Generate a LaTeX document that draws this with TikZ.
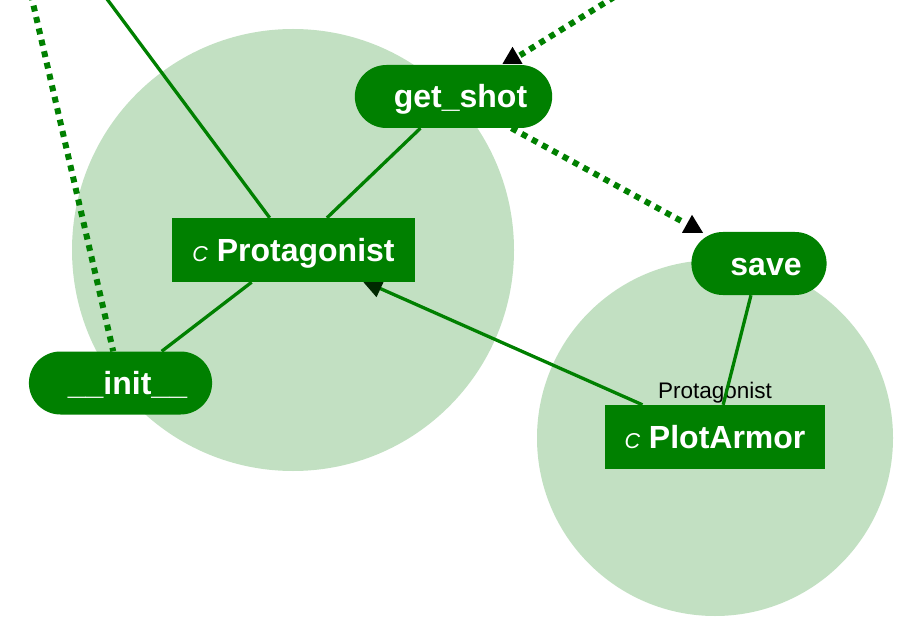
\documentclass[tikz,border=0pt]{standalone}
\usepackage{fontspec}
\setmainfont{Liberation Sans}
\usepackage{xcolor}
\usepackage{tikz}
\usetikzlibrary{positioning, calc}

\definecolor{nodegreen}{RGB}{0,128,0}
\definecolor{zonegreen}{RGB}{194,224,194}
\definecolor{tipdark}{RGB}{0,40,0}

\newcommand{\kindmark}{{\fontsize{21.5}{24}\selectfont\mdseries\itshape C}}

\tikzset{
    zone/.style={circle, fill=zonegreen, inner sep=0pt},
    classbox/.style={rectangle, fill=nodegreen, text=white,
        font=\fontsize{32}{36}\selectfont\bfseries,
        inner xsep=20pt, inner ysep=0pt, minimum height=64pt,
        text height=23pt, text depth=0pt},
    methodpill/.style={rectangle, rounded corners=31.5pt, fill=nodegreen, text=white,
        font=\fontsize{32}{36}\selectfont\bfseries,
        inner xsep=25pt, inner ysep=0pt, minimum height=63pt,
        text height=23pt, text depth=0pt},
    basetag/.style={font=\fontsize{22.5}{26}\selectfont, text=black, inner sep=0pt},
    link/.style={draw=nodegreen, line width=3.3pt},
    call/.style={draw=nodegreen, line width=6pt, dash pattern=on 6pt off 5.7pt},
    headtip/.style={fill=black},
}

\begin{document}
\begin{tikzpicture}[x=1pt, y=-1pt]
        \clip (0,0) rectangle (920,636);
        \node[zone, minimum size=442pt] (Protagonist-zone) at (293,250)  {};
        \node[zone, minimum size=356pt] (PlotArmor-zone)   at (715,438)  {};

        \node[classbox]   (Protagonist) at (293.5,250)   {\kindmark{} Protagonist};
        \node[classbox]   (PlotArmor)   at (715,437)     {\kindmark{} PlotArmor};
        \node[basetag, above=1.3pt of PlotArmor] (PlotArmor-base) {Protagonist};
        \node[methodpill] (get-shot)    at (453.5,96.5)  {\hspace{14pt}get\_shot};
        \node[methodpill] (save)        at (759,263.5)   {\hspace{14pt}save};
        \node[methodpill] (init)        at (120.5,383)   {\hspace{14pt}\_\_init\_\_};

        \coordinate (caller-a) at ( 23,-40);
        \coordinate (caller-b) at ( 78,-40);
        \coordinate (caller-c) at (674,-40);

        \draw[link] (caller-b) -- (Protagonist);
        \draw[link] (get-shot) -- (Protagonist);
        \draw[link] (Protagonist) -- (init);
        \draw[link] (PlotArmor) -- (Protagonist);
        \draw[link] (save) -- (PlotArmor);

        \draw[call] (caller-a) -- (init);
        \draw[call, shorten >=18pt] (caller-c) -- (get-shot);
        \draw[call, shorten >=23pt] (get-shot) -- (save);

        % heads
        \fill[headtip] ($(get-shot.north)+(49,-1)$) -- ++(20,0) -- ++(-10,-17) -- cycle;
        \fill[headtip] ($(save.north)+(-77,1)$) -- ++(21,0) -- ++(-11,-18) -- cycle;
        \fill[headtip, fill=tipdark] ($(Protagonist.south)+(70,0)$) -- ++(20,0) -- ++(-7,15) -- cycle;
    \end{tikzpicture}
\end{document}
